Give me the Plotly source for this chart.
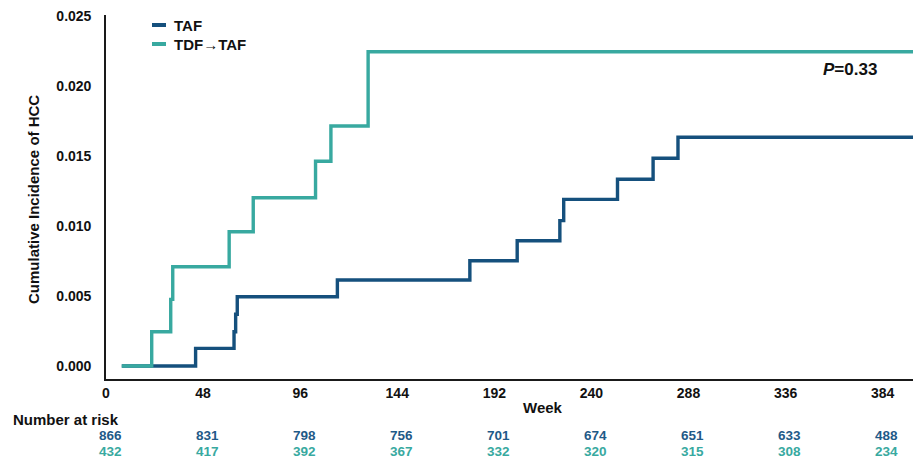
import plotly.graph_objects as go

# Cumulative incidence of HCC by week (step functions)
weeks_taf = [7.8, 44.3, 63.3, 64.1, 64.9, 114.4, 179.9, 203.3, 224.4, 226.3, 252.9, 270.5, 282.8, 399]
cuminc_taf = [0, 0.00126, 0.00245, 0.0037, 0.00495, 0.00614, 0.00752, 0.00895, 0.01038, 0.0119,
              0.01334, 0.01484, 0.01634, 0.01634]

weeks_tdf = [7.8, 22.6, 32.0, 33.0, 60.9, 72.8, 103.6, 111.2, 129.6, 399]
cuminc_tdf = [0, 0.00245, 0.00476, 0.00709, 0.00959, 0.01202, 0.01462, 0.01714, 0.02245, 0.02245]

# Number at risk table
risk_weeks = [0, 48, 96, 144, 192, 240, 288, 336, 384]
risk_taf = [866, 831, 798, 756, 701, 674, 651, 633, 488]
risk_tdf = [432, 417, 392, 367, 332, 320, 315, 308, 234]

series_names = ["TAF", "TDF→TAF"]
p_value_text = "<i>P</i>=0.33"

y_ticks = [0.0, 0.005, 0.010, 0.015, 0.020, 0.025]
x_ticks = risk_weeks

NAVY = "#15507d"
TEAL = "#38a9a0"
FONT = "Arial, Liberation Sans, sans-serif"

fig = go.Figure()
fig.add_trace(go.Scatter(x=weeks_taf, y=cuminc_taf, mode="lines", line_shape="hv",
                         line=dict(color=NAVY, width=3.4), name=series_names[0],
                         showlegend=False, hoverinfo="skip"))
fig.add_trace(go.Scatter(x=weeks_tdf, y=cuminc_tdf, mode="lines", line_shape="hv",
                         line=dict(color=TEAL, width=3.4), name=series_names[1],
                         showlegend=False, hoverinfo="skip"))

W, H = 914, 459
ML, MR, MT, MB = 106, 1, 15, 80
plot_w = W - ML - MR
plot_h = H - MT - MB


def px_x(px):
    return (px - ML) / plot_w


def px_y(py):
    return (H - MB - py) / plot_h


annotations = []
shapes = []

# Legend drawn by hand: short line samples with bold labels
for i, (name, col) in enumerate(zip(series_names, [NAVY, TEAL])):
    yy = px_y(25 + 19 * i)
    shapes.append(dict(type="line", xref="paper", yref="paper",
                       x0=px_x(152), x1=px_x(166), y0=yy, y1=yy,
                       line=dict(color=col, width=4)))
    annotations.append(dict(xref="paper", yref="paper", x=px_x(172), y=yy,
                            text="<b>%s</b>" % name, showarrow=False,
                            xanchor="left", yanchor="middle",
                            font=dict(family=FONT, size=15, color="#111")))

# P value
annotations.append(dict(xref="paper", yref="paper", x=px_x(850), y=px_y(69),
                        text="<b>%s</b>" % p_value_text, showarrow=False,
                        xanchor="center", yanchor="middle",
                        font=dict(family=FONT, size=17, color="#111")))

# Axis titles
annotations.append(dict(xref="paper", yref="paper", x=px_x(33), y=px_y(200),
                        text="<b>Cumulative Incidence of HCC</b>", showarrow=False,
                        textangle=-90, xanchor="center", yanchor="middle",
                        font=dict(family=FONT, size=15, color="#111")))
annotations.append(dict(xref="paper", yref="paper", x=px_x(543), y=px_y(407),
                        text="<b>Week</b>", showarrow=False,
                        xanchor="center", yanchor="middle",
                        font=dict(family=FONT, size=15, color="#111")))

# Number at risk
annotations.append(dict(xref="paper", yref="paper", x=px_x(11), y=px_y(419),
                        text="<b>Number at risk</b>", showarrow=False,
                        xanchor="left", yanchor="middle",
                        font=dict(family=FONT, size=15, color="#111")))
for wk, a, b in zip(risk_weeks, risk_taf, risk_tdf):
    annotations.append(dict(xref="x", yref="paper", x=wk, y=px_y(435.5), xshift=4,
                            text="<b>%d</b>" % a, showarrow=False, borderpad=0,
                            xanchor="center", yanchor="middle",
                            font=dict(family=FONT, size=13.5, color="#1f5a88")))
    annotations.append(dict(xref="x", yref="paper", x=wk, y=px_y(451), xshift=4,
                            text="<b>%d</b>" % b, showarrow=False, borderpad=0,
                            xanchor="center", yanchor="middle",
                            font=dict(family=FONT, size=13.5, color=TEAL)))

fig.update_layout(
    width=W, height=H,
    margin=dict(l=ML, r=MR, t=MT, b=MB, pad=0),
    paper_bgcolor="white", plot_bgcolor="white",
    font=dict(family=FONT, color="#111"),
    showlegend=False,
    annotations=annotations,
    shapes=shapes,
    xaxis=dict(range=[0, 399], tickvals=x_ticks,
               ticktext=["<b>%d</b>" % v for v in x_ticks],
               showgrid=False, zeroline=False, showline=True,
               linecolor="#1a1a1a", linewidth=1.6, ticks="",
               ticklabelstandoff=0,
               tickfont=dict(family=FONT, size=14, color="#111")),
    yaxis=dict(range=[-0.00093, 0.02507], tickvals=y_ticks,
               ticktext=["<b>%.3f</b>" % v for v in y_ticks],
               showgrid=False, zeroline=False, showline=True,
               linecolor="#1a1a1a", linewidth=1.6, ticks="",
               ticklabelstandoff=10,
               tickfont=dict(family=FONT, size=14, color="#111")),
)

fig.write_html("out.html", config={"displayModeBar": False})
